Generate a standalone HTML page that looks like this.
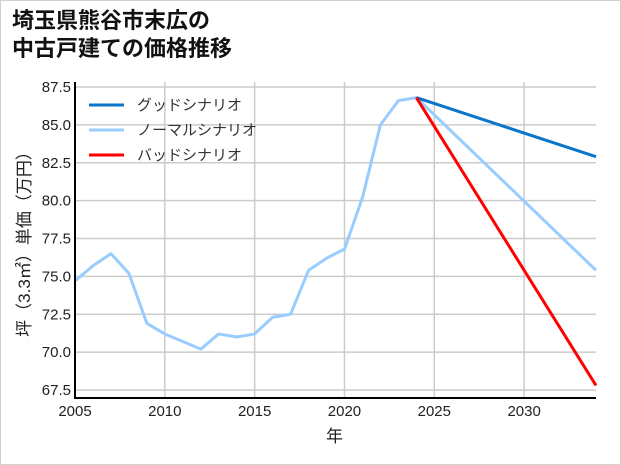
<!DOCTYPE html>
<html><head><meta charset="utf-8"><style>
body{margin:0;background:#fff;}
#wrap{position:relative;width:619px;height:463px;border:1px solid #d0d0d0;background:#fff;font-family:"Liberation Sans","Noto Sans CJK JP",sans-serif;}
#title{position:absolute;left:11px;top:6px;font-size:22px;font-weight:bold;line-height:28px;color:#111;font-family:"Liberation Sans","Noto Sans CJK JP",sans-serif;}
svg text{font-family:"Liberation Sans","Noto Sans CJK JP",sans-serif;}
</style></head><body>
<div id="wrap">
<div id="title">埼玉県熊谷市末広の<br>中古戸建ての価格推移</div>
<svg id="chart" width="621" height="465" style="position:absolute;left:-1px;top:-1px"></svg>
</div>
<script>
const years=[2005,2006,2007,2008,2009,2010,2011,2012,2013,2014,2015,2016,2017,2018,2019,2020,2021,2022,2023,2024];
const history=[74.7,75.7,76.5,75.2,71.9,71.2,70.7,70.2,71.2,71.0,71.2,72.3,72.5,75.4,76.2,76.8,80.2,85.0,86.6,86.8];
const scenarioYears=[2024,2034];
const goodVals=[86.8,82.9];
const normalVals=[86.8,75.4];
const badVals=[86.8,67.8];
const xTicks=[2005,2010,2015,2020,2025,2030];
const yTicks=[67.5,70.0,72.5,75.0,77.5,80.0,82.5,85.0,87.5];
const legendLabels=["グッドシナリオ","ノーマルシナリオ","バッドシナリオ"];
const legendColors=["#0a75c9","#99ccff","#ff0000"];

const svg=document.getElementById('chart');
const NS='http://www.w3.org/2000/svg';
const L=75,R=596,T=82,B=398;
const xMin=2005,xMax=2034;
function X(v){return L+(v-xMin)/(xMax-xMin)*(R-L);}
function Y(v){return 87+(87.5-v)*15.15;}
function mk(tag,attrs,parent){const e=document.createElementNS(NS,tag);for(const k in attrs)e.setAttribute(k,attrs[k]);(parent||svg).appendChild(e);return e;}

const grid=mk('g',{});


xTicks.forEach(t=>{mk('line',{x1:X(t),x2:X(t),y1:T,y2:B,stroke:'#cccccc','stroke-width':1.5},grid);});
yTicks.forEach(t=>{mk('line',{x1:L,x2:R,y1:Y(t),y2:Y(t),stroke:'#cccccc','stroke-width':1.5},grid);});

function line(xs,ys,color,name){
  const p=mk('polyline',{points:xs.map((x,i)=>X(x)+','+Y(ys[i])).join(' '),fill:'none',stroke:color,'stroke-width':3,'stroke-linejoin':'round'});
  
  
}
line(years,history,'#99ccff','history-line');
line(scenarioYears,normalVals,'#99ccff','normal-scenario-line');
line(scenarioYears,goodVals,'#0a75c9','good-scenario-line');
line(scenarioYears,badVals,'#ff0000','bad-scenario-line');

const ax=mk('g',{});


mk('line',{x1:L,x2:L,y1:T,y2:B+1,stroke:'#000','stroke-width':2},ax);
mk('line',{x1:L-1,x2:R,y1:B,y2:B,stroke:'#000','stroke-width':2},ax);
xTicks.forEach(t=>{const tx=mk('text',{x:X(t),y:B+18,'text-anchor':'middle','font-size':15,fill:'#222'},ax);tx.textContent=t;
});
yTicks.forEach(t=>{const tx=mk('text',{x:L-4,y:Y(t)+5,'text-anchor':'end','font-size':15,fill:'#222'},ax);tx.textContent=t.toFixed(1);
});
const xt=mk('text',{x:(L+R)/2-1,y:442,'text-anchor':'middle','font-size':17,fill:'#222'});xt.textContent='年';

const yt=mk('text',{x:0,y:0,'text-anchor':'middle','font-size':17,fill:'#222',transform:'translate(30,'+(T+B)/2+') rotate(-90)'});yt.textContent='坪（3.3㎡）単価（万円）';


const lg=mk('g',{});


legendLabels.forEach((lab,i)=>{const y=105+i*25;
 const g=mk('g',{},lg);
 
 
 mk('line',{x1:89,x2:124,y1:y,y2:y,stroke:legendColors[i],'stroke-width':3},g);
 const t=mk('text',{x:137,y:y+5,'font-size':15,fill:'#333'},g);t.textContent=lab;});
</script>
</body></html>
